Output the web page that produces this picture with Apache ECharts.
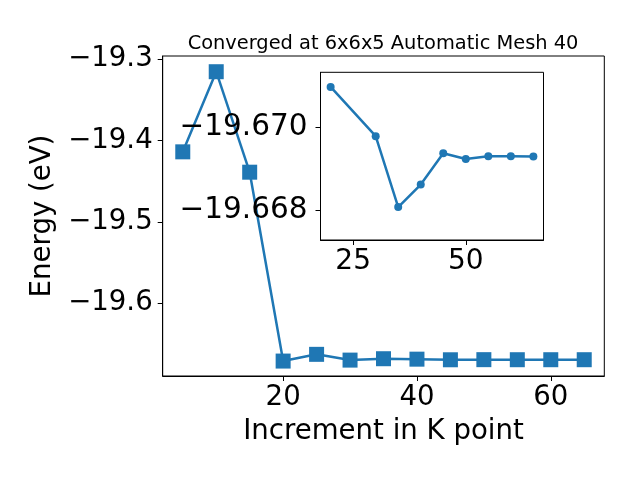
<!DOCTYPE html>
<html>
<head>
<meta charset="utf-8">
<script src="https://cdn.jsdelivr.net/npm/echarts@6/dist/echarts.min.js"></script>
<style>html,body{margin:0;padding:0;background:#fff;}#c{width:640px;height:480px;}</style>
</head>
<body>
<div id="c"></div>
<script>
const kPoints = [5, 10, 15, 20, 25, 30, 35, 40, 45, 50, 55, 60, 65];
const energies = [-19.414, -19.3156, -19.439, -19.67096, -19.6627, -19.66978, -19.66808, -19.66862, -19.66937, -19.66923, -19.6693, -19.6693, -19.66929];
const insetK = [20, 30, 35, 40, 45, 50, 55, 60, 65];
const insetE = [-19.67096, -19.66978, -19.66808, -19.66862, -19.66937, -19.66923, -19.6693, -19.6693, -19.66929];
const mainXTicks = [20, 40, 60];
const mainYTicks = [-19.6, -19.5, -19.4, -19.3];
const insetXTicks = [25, 50];
const insetYTicks = [-19.670, -19.668];
const titleText = 'Converged at 6x6x5 Automatic Mesh 40';
const xName = 'Increment in K point';
const yName = 'Energy (eV)';

const FONT = 'DejaVu Sans';
const BLUE = '#1f77b4';
function fmt(d) { return v => (v < 0 ? '\u2212' : '') + Math.abs(v).toFixed(d); }

const chart = echarts.init(document.getElementById('c'), null, {renderer: 'canvas'});
chart.setOption({
  animation: false,
  backgroundColor: '#fff',
  title: {
    text: titleText, left: 378, top: 28, textAlign: 'center',
    textStyle: {fontFamily: FONT, fontSize: 19.4, fontWeight: 'normal', color: '#000', lineHeight: 22}
  },
  grid: [
    {left: 162.7, right: 35.7, top: 56, bottom: 104, show: true, borderColor: '#000', borderWidth: 1, backgroundColor: 'transparent'},
    {left: 320.5, right: 96.5, top: 72.3, bottom: 240, show: true, borderColor: '#000', borderWidth: 1, backgroundColor: '#fff', z: 5}
  ],
  xAxis: [
    {type: 'value', gridIndex: 0, min: 2, max: 68,
     name: xName, nameLocation: 'middle', nameGap: 42,
     nameTextStyle: {fontFamily: FONT, fontSize: 27.6, color: '#000', verticalAlign: 'top'},
     axisLine: {show: true, onZero: false, lineStyle: {color: '#000', width: 1}},
     axisTick: {show: true, length: 5, lineStyle: {color: '#000'}, customValues: mainXTicks},
     axisLabel: {fontFamily: FONT, fontSize: 27.6, color: '#000', margin: 8, customValues: mainXTicks},
     splitLine: {show: false}},
    {type: 'value', gridIndex: 1, min: 17.75, max: 67.25,
     axisLine: {show: true, onZero: false, lineStyle: {color: '#000', width: 1}},
     axisTick: {show: true, length: 5, lineStyle: {color: '#000'}, customValues: insetXTicks},
     axisLabel: {fontFamily: FONT, fontSize: 28, color: '#000', margin: 8, customValues: insetXTicks},
     splitLine: {show: false}, z: 6}
  ],
  yAxis: [
    {type: 'value', gridIndex: 0, min: -19.6893, max: -19.2963,
     name: yName, nameLocation: 'middle', nameGap: 102, nameRotate: 90,
     nameTextStyle: {fontFamily: FONT, fontSize: 27.6, color: '#000'},
     axisLine: {show: true, onZero: false, lineStyle: {color: '#000', width: 1}},
     axisTick: {show: true, length: 5, lineStyle: {color: '#000'}, customValues: mainYTicks},
     axisLabel: {fontFamily: FONT, fontSize: 27.6, color: '#000', margin: 10, customValues: mainYTicks, formatter: fmt(1)},
     splitLine: {show: false}},
    {type: 'value', gridIndex: 1, min: -19.67131, max: -19.66729, inverse: true,
     axisLine: {show: true, onZero: false, lineStyle: {color: '#000', width: 1}},
     axisTick: {show: true, length: 5, lineStyle: {color: '#000'}, customValues: insetYTicks},
     axisLabel: {fontFamily: FONT, fontSize: 29.5, color: '#000', margin: 13, customValues: insetYTicks, formatter: fmt(3)},
     splitLine: {show: false}, z: 6}
  ],
  series: [
    {type: 'line', xAxisIndex: 0, yAxisIndex: 0,
     data: kPoints.map((k, i) => [k, energies[i]]),
     symbol: 'rect', symbolSize: 15, showAllSymbol: true,
     lineStyle: {color: BLUE, width: 2.5}, itemStyle: {color: BLUE}, z: 2},
    {type: 'line', xAxisIndex: 1, yAxisIndex: 1,
     data: insetK.map((k, i) => [k, insetE[i]]),
     symbol: 'circle', symbolSize: 8, showAllSymbol: true,
     lineStyle: {color: BLUE, width: 2.5}, itemStyle: {color: BLUE}, z: 7}
  ]
});
</script>
</body>
</html>
